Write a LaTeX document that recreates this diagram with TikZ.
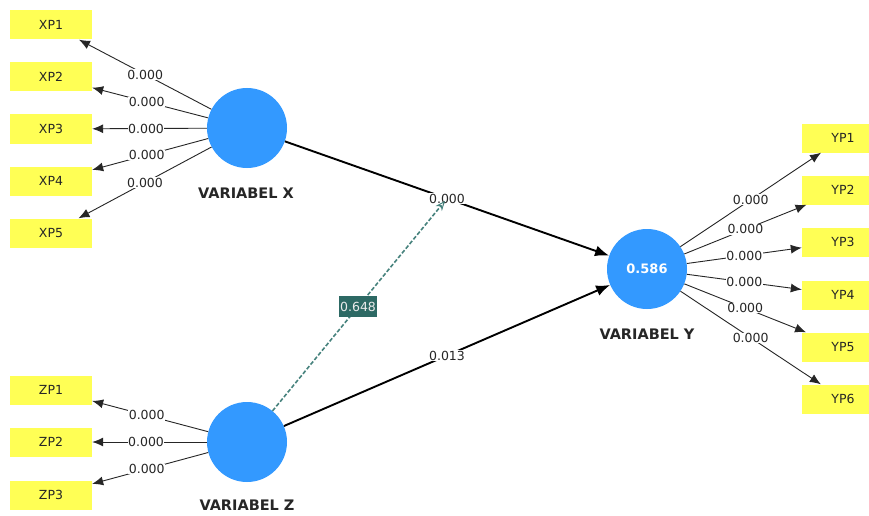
\documentclass[tikz,border=0pt]{standalone}
\usepackage{fontspec}
\setmainfont{DejaVu Sans}
\usetikzlibrary{arrows.meta}
\definecolor{circblue}{RGB}{51,153,255}
\definecolor{boxyellow}{RGB}{255,255,85}
\definecolor{tealline}{RGB}{70,130,125}
\definecolor{tealbox}{RGB}{45,105,100}
\tikzset{
  lv/.style={circle, fill=circblue, minimum size=80pt, inner sep=0pt},
  ind/.style={rectangle, fill=boxyellow, minimum width=82pt, minimum height=29pt, inner sep=0pt, font=\fontsize{12.5}{14}\selectfont, text=black!85},
  ld/.style={draw=black!85, line width=0.9pt, -{Latex[length=11pt,width=9pt]}},
  lab/.style={fill=white, inner sep=0.5pt, font=\fontsize{12.5}{14}\selectfont, text=black!85},
  pathc/.style={draw=black, line width=1.9pt, -{Latex[length=14pt,width=11pt]}},
  title/.style={font=\fontsize{14.5}{16}\selectfont\bfseries, text=black!85},
}
\begin{document}
\begin{tikzpicture}[x=1pt,y=-1pt]
\clip (0,0) rectangle (869,516);
\fill[white] (0,0) rectangle (869,516);
% latent variables
\node[lv] (X) at (247,128) {};
\node[lv] (Z) at (247,442) {};
\node[lv, text=white, font=\fontsize{13}{15}\selectfont\bfseries] (Y) at (647,269) {0.586};
\node[title] (tX) at (246,193) {VARIABEL X};
\node[title] (tZ) at (247,505) {VARIABEL Z};
\node[title] (tY) at (647,334) {VARIABEL Y};
% indicators X
\node[ind] (XP1) at (51,25) {XP1};
\node[ind] (XP2) at (51,77) {XP2};
\node[ind] (XP3) at (51,129) {XP3};
\node[ind] (XP4) at (51,181) {XP4};
\node[ind] (XP5) at (51,233) {XP5};
% indicators Z
\node[ind] (ZP1) at (51,390) {ZP1};
\node[ind] (ZP2) at (51,442) {ZP2};
\node[ind] (ZP3) at (51,495) {ZP3};
% indicators Y
\node[ind] (YP1) at (843,138) {YP1};
\node[ind] (YP2) at (843,190) {YP2};
\node[ind] (YP3) at (843,242) {YP3};
\node[ind] (YP4) at (843,295) {YP4};
\node[ind] (YP5) at (843,347) {YP5};
\node[ind] (YP6) at (843,399) {YP6};
% outer loadings
\draw[ld] (X) -- node[lab,pos=0.5] {0.000} (XP1);
\draw[ld] (X) -- node[lab,pos=0.53] {0.000} (XP2);
\draw[ld] (X) -- node[lab,pos=0.53] {0.000} (XP3);
\draw[ld] (X) -- node[lab,pos=0.53] {0.000} (XP4);
\draw[ld] (X) -- node[lab,pos=0.5] {0.000} (XP5);
\draw[ld] (Z) -- node[lab,pos=0.53] {0.000} (ZP1);
\draw[ld] (Z) -- node[lab,pos=0.53] {0.000} (ZP2);
\draw[ld] (Z) -- node[lab,pos=0.53] {0.000} (ZP3);
\draw[ld] (Y) -- node[lab,pos=0.5] {0.000} (YP1);
\draw[ld] (Y) -- node[lab,pos=0.5] {0.000} (YP2);
\draw[ld] (Y) -- node[lab,pos=0.5] {0.000} (YP3);
\draw[ld] (Y) -- node[lab,pos=0.5] {0.000} (YP4);
\draw[ld] (Y) -- node[lab,pos=0.5] {0.000} (YP5);
\draw[ld] (Y) -- node[lab,pos=0.5] {0.000} (YP6);
% structural paths
\draw[pathc] (X) -- coordinate[pos=0.5] (m) node[lab,pos=0.5] {0.000} (Y);
\draw[pathc] (Z) -- node[lab,pos=0.5] {0.013} (Y);
% moderating effect
\draw[tealline, line width=1.6pt, dash pattern=on 4pt off 2pt, shorten >=3pt,
  -{Stealth[open, length=10pt, width=8pt, line width=1pt]}] (Z) --
  node[pos=0.49, fill=tealbox, text=white!92!black, inner xsep=1.5pt, minimum height=21pt, font=\fontsize{12.5}{14}\selectfont] {0.648} (m);
\end{tikzpicture}
\end{document}
